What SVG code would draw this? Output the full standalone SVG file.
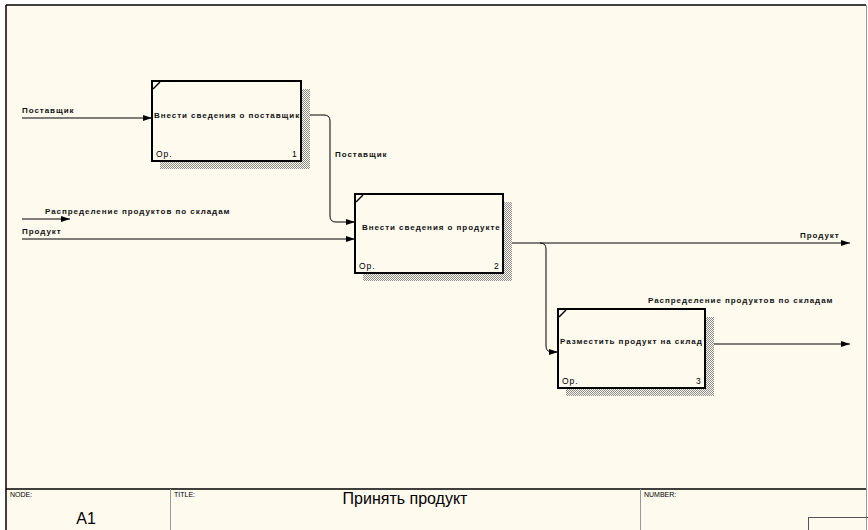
<svg xmlns="http://www.w3.org/2000/svg" width="868" height="530" viewBox="0 0 868 530">
<style>
.lbl{font-family:"Liberation Sans",Arial,sans-serif;font-size:8px;font-weight:bold;letter-spacing:0.95px;fill:#111}
.cnr{font-family:"Liberation Sans",Arial,sans-serif;font-size:8.5px;letter-spacing:1px;fill:#000}
.box{fill:#fffaee;stroke:#000;stroke-width:2}
.shadow{fill:url(#hatch)}
.con{fill:none;stroke:#000;stroke-width:1}
.small{font-family:"Liberation Sans",Arial,sans-serif;font-size:7px;fill:#000}
</style>
<defs>
<pattern id="hatch" width="2" height="2" patternUnits="userSpaceOnUse">
<rect width="2" height="2" fill="#fffaee"/>
<rect width="1" height="1" fill="#8a8a8a"/>
<rect x="1" y="1" width="1" height="1" fill="#8a8a8a"/>
</pattern>
<marker id="arr" markerWidth="9" markerHeight="6" refX="9" refY="3" orient="auto" markerUnits="userSpaceOnUse">
<path d="M0,0 L9,3 L0,6 z" fill="#000"/>
</marker>
</defs>
<rect width="868" height="530" fill="#fff"/>
<rect x="6" y="5" width="860" height="525" fill="#fffaee"/>
<line x1="6" y1="5" x2="866" y2="5" stroke="#000" stroke-width="1.5"/>
<line x1="6" y1="5" x2="6" y2="530" stroke="#000" stroke-width="1.5"/>
<line x1="866.5" y1="5" x2="866.5" y2="530" stroke="#999" stroke-width="1"/>

<g id="connectors">
<path class="con" d="M22,118 H152" marker-end="url(#arr)"/>
<path class="con" d="M301,115 H324 Q330,115 330,121 V216 Q330,222 336,222 H355" marker-end="url(#arr)"/>
<path class="con" d="M22,219 H70" marker-end="url(#arr)"/>
<path class="con" d="M22,239 H355" marker-end="url(#arr)"/>
<path class="con" d="M503,243 H850" marker-end="url(#arr)"/>
<path class="con" d="M540,243 Q546,243 546,249 V346 Q546,352 552,352 H558" marker-end="url(#arr)"/>
<path class="con" d="M705,344 H850" marker-end="url(#arr)"/>
<text class="lbl" x="22" y="113">Поставщик</text>
<text class="lbl" x="335" y="157">Поставщик</text>
<text class="lbl" x="45" y="214">Распределение продуктов по складам</text>
<text class="lbl" x="22" y="234">Продукт</text>
<text class="lbl" x="800" y="238">Продукт</text>
<text class="lbl" x="648" y="303">Распределение продуктов по складам</text>
</g>

<g id="node1">
<rect class="shadow" x="160" y="89" width="150" height="80"/>
<rect class="box" x="152" y="81" width="149" height="80"/>
<line x1="153" y1="89" x2="160" y2="82" stroke="#000" stroke-width="1.5"/>
<text class="lbl" x="154" y="118">Внести сведения о поставщик</text>
<text class="cnr" x="156" y="157">Ор.</text>
<text class="cnr" x="292" y="157">1</text>
</g>

<g id="node2">
<rect class="shadow" x="363" y="202" width="149" height="79"/>
<rect class="box" x="355" y="194" width="148" height="79"/>
<line x1="356" y1="202" x2="363" y2="195" stroke="#000" stroke-width="1.5"/>
<text class="lbl" x="362" y="230">Внести сведения о продукте</text>
<text class="cnr" x="359" y="269">Ор.</text>
<text class="cnr" x="494" y="269">2</text>
</g>

<g id="node3">
<rect class="shadow" x="566" y="317" width="148" height="79"/>
<rect class="box" x="558" y="309" width="147" height="79"/>
<line x1="559" y1="317" x2="566" y2="310" stroke="#000" stroke-width="1.5"/>
<text class="lbl" x="560" y="344">Разместить продукт на склад</text>
<text class="cnr" x="562" y="384">Ор.</text>
<text class="cnr" x="696" y="384">3</text>
</g>

<g id="titleblock">
<line x1="6" y1="489" x2="866" y2="489" stroke="#000" stroke-width="1.5"/>
<line x1="170.5" y1="489" x2="170.5" y2="530" stroke="#999" stroke-width="1"/>
<line x1="640.5" y1="489" x2="640.5" y2="530" stroke="#999" stroke-width="1"/>
<rect x="808.5" y="517.5" width="60" height="14" fill="none" stroke="#555" stroke-width="1"/>
<text class="small" x="10" y="497">NODE:</text>
<text class="small" x="174" y="497">TITLE:</text>
<text class="small" x="644" y="497">NUMBER:</text>
<text x="86" y="524" font-family="Liberation Sans,Arial,sans-serif" font-size="16" text-anchor="middle">A1</text>
<text x="405" y="504" font-family="Liberation Sans,Arial,sans-serif" font-size="16" text-anchor="middle">Принять продукт</text>
</g>
</svg>
